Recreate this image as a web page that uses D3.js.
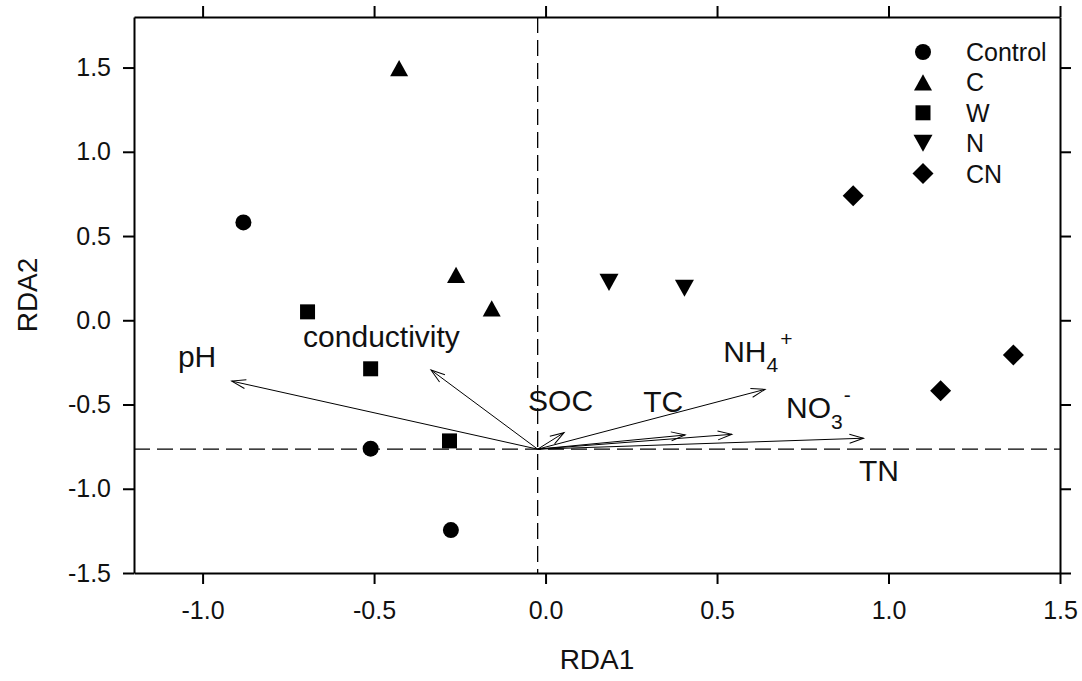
<!DOCTYPE html>
<html>
<head>
<meta charset="utf-8">
<script src="https://cdn.jsdelivr.net/npm/d3@7"></script>
<style>
  body { margin: 0; background: #fff; }
  svg { font-family: "Liberation Sans", Arial, sans-serif; }
  .axis path, .axis line { stroke: #000; stroke-width: 2; }
  .axis text { font-size: 25px; fill: #111; }
</style>
</head>
<body>
<svg id="chart" width="1082" height="681"></svg>
<script>
/* =========================
   DATA
========================= */
const groups = ["Control", "C", "W", "N", "CN"];

// sample scores (RDA1, RDA2)
const controlPts = [[-0.881, 0.581], [-0.51, -0.762], [-0.276, -1.245]];
const cPts = [[-0.427, 1.497], [-0.261, 0.269], [-0.157, 0.071]];
const wPts = [[-0.694, 0.05], [-0.51, -0.288], [-0.28, -0.716]];
const nPts = [[0.185, 0.225], [0.405, 0.19]];
const cnPts = [[0.897, 0.739], [1.152, -0.418], [1.364, -0.206]];

// environmental vectors
const envNames = ["pH", "conductivity", "SOC", "TC", "NO3", "NH4", "TN"];
const envX = [-0.915, -0.334, 0.054, 0.407, 0.543, 0.64, 0.927];
const envY = [-0.361, -0.295, -0.667, -0.681, -0.677, -0.41, -0.7];
const envOrigin = [-0.023, -0.765];

// label anchors (start, baseline) in axis units
const labelX = [-1.072, -0.707, -0.051, 0.285, 0.701, 0.518, 0.914];
const labelY = [-0.277, -0.159, -0.538, -0.544, -0.58, -0.248, -0.954];

const xTicks = [-1.0, -0.5, 0.0, 0.5, 1.0, 1.5];
const yTicks = [-1.5, -1.0, -0.5, 0.0, 0.5, 1.0, 1.5];

/* =========================
   SETUP
========================= */
const svg = d3.select("#chart");

const x = d3.scaleLinear().domain([-1.2, 1.5]).range([134, 1060]);
const y = d3.scaleLinear().domain([-1.5, 1.8]).range([573, 17]);

/* ===== AXES ===== */
svg.append("g")
  .attr("class", "axis")
  .attr("transform", `translate(0,${y(-1.5)})`)
  .call(d3.axisBottom(x).tickValues(xTicks).tickFormat(d3.format(".1f")).tickSize(11).tickSizeOuter(0).tickPadding(17));

svg.append("g")
  .attr("class", "axis")
  .attr("transform", `translate(0,${y(1.8)})`)
  .call(d3.axisTop(x).tickValues(xTicks).tickFormat("").tickSize(11).tickSizeOuter(0));

svg.append("g")
  .attr("class", "axis")
  .attr("transform", `translate(${x(-1.2)},0)`)
  .call(d3.axisLeft(y).tickValues(yTicks).tickFormat(d3.format(".1f")).tickSize(11).tickSizeOuter(0).tickPadding(12));

svg.append("g")
  .attr("class", "axis")
  .attr("transform", `translate(${x(1.5)},0)`)
  .call(d3.axisRight(y).tickValues(yTicks).tickFormat("").tickSize(11).tickSizeOuter(0));

svg.selectAll(".axis .tick text").text(function () {
  return d3.select(this).text().replace("−", "-");
});

/* ===== AXIS TITLES ===== */
svg.append("text")
  .attr("x", (x(-1.2) + x(1.5)) / 2)
  .attr("y", 669)
  .attr("text-anchor", "middle")
  .style("font-size", "28px")
  .attr("fill", "#111")
  .text("RDA1");

svg.append("text")
  .attr("transform", `translate(37,${(y(-1.5) + y(1.8)) / 2}) rotate(-90)`)
  .attr("text-anchor", "middle")
  .style("font-size", "28px")
  .attr("fill", "#111")
  .text("RDA2");

/* ===== DASHED REFERENCE LINES ===== */
svg.append("line")
  .attr("x1", x(-1.2)).attr("x2", x(1.5))
  .attr("y1", y(envOrigin[1])).attr("y2", y(envOrigin[1]))
  .attr("stroke", "#000").attr("stroke-width", 1.3)
  .attr("stroke-dasharray", "16,7");

svg.append("line")
  .attr("x1", x(envOrigin[0])).attr("x2", x(envOrigin[0]))
  .attr("y1", y(1.8)).attr("y2", y(-1.5))
  .attr("stroke", "#000").attr("stroke-width", 1.3)
  .attr("stroke-dasharray", "16,7");

/* ===== ARROWS ===== */
svg.append("defs")
  .append("marker")
  .attr("id", "head")
  .attr("markerUnits", "userSpaceOnUse")
  .attr("viewBox", "-16 -6 18 12")
  .attr("refX", 0).attr("refY", 0)
  .attr("markerWidth", 18).attr("markerHeight", 12)
  .attr("orient", "auto")
  .append("path")
  .attr("d", "M-14,-4.5L0,0L-14,4.5")
  .attr("fill", "none")
  .attr("stroke", "#000")
  .attr("stroke-width", 1);

svg.append("g")
  .selectAll("line")
  .data(envNames)
  .join("line")
  .attr("x1", x(envOrigin[0]))
  .attr("y1", y(envOrigin[1]))
  .attr("x2", (d, i) => x(envX[i]))
  .attr("y2", (d, i) => y(envY[i]))
  .attr("stroke", "#000")
  .attr("stroke-width", 1)
  .attr("marker-end", "url(#head)");

/* ===== VECTOR LABELS ===== */
const labels = svg.append("g")
  .style("font-size", "30px")
  .attr("fill", "#111");

envNames.forEach((name, i) => {
  const t = labels.append("text")
    .attr("x", x(labelX[i]))
    .attr("y", y(labelY[i]));
  if (name === "NH4") {
    t.append("tspan").text("NH");
    t.append("tspan").attr("dy", 10).style("font-size", "21px").text("4");
    t.append("tspan").attr("dy", -26).attr("dx", 2).style("font-size", "21px").text("+");
  } else if (name === "NO3") {
    t.append("tspan").text("NO");
    t.append("tspan").attr("dy", 11).style("font-size", "21px").text("3");
    t.append("tspan").attr("dy", -27).attr("dx", 1).style("font-size", "21px").text("-");
  } else {
    t.text(name);
  }
});

/* ===== SYMBOLS ===== */
const triUp = {
  draw(ctx, size) {
    const w = size / 2, h = size * 0.45;
    ctx.moveTo(0, -h);
    ctx.lineTo(w, h);
    ctx.lineTo(-w, h);
    ctx.closePath();
  }
};
const triDown = {
  draw(ctx, size) {
    const w = size / 2, h = size * 0.45;
    ctx.moveTo(0, h);
    ctx.lineTo(w, -h);
    ctx.lineTo(-w, -h);
    ctx.closePath();
  }
};
const diamond = {
  draw(ctx, size) {
    const r = size / 2;
    ctx.moveTo(0, -r);
    ctx.lineTo(r, 0);
    ctx.lineTo(0, r);
    ctx.lineTo(-r, 0);
    ctx.closePath();
  }
};

const symbolGens = [
  d3.symbol().type(d3.symbolCircle).size(Math.PI * 64),
  d3.symbol().type(triUp).size(18),
  d3.symbol().type(d3.symbolSquare).size(225),
  d3.symbol().type(triDown).size(19),
  d3.symbol().type(diamond).size(21)
];

const series = [controlPts, cPts, wPts, nPts, cnPts];

series.forEach((pts, k) => {
  svg.append("g")
    .selectAll("path")
    .data(pts)
    .join("path")
    .attr("d", symbolGens[k]())
    .attr("transform", (d) => `translate(${x(d[0])},${y(d[1])})`)
    .attr("fill", "#000");
});

/* ===== LEGEND ===== */
const legend = svg.append("g").attr("transform", "translate(923,52)");

groups.forEach((g, k) => {
  const row = legend.append("g").attr("transform", `translate(0,${k * 30.4})`);
  row.append("path").attr("d", symbolGens[k]()).attr("fill", "#000");
  row.append("text")
    .attr("x", 43)
    .attr("y", 9)
    .style("font-size", "25px")
    .attr("fill", "#111")
    .text(g);
});
</script>
</body>
</html>
